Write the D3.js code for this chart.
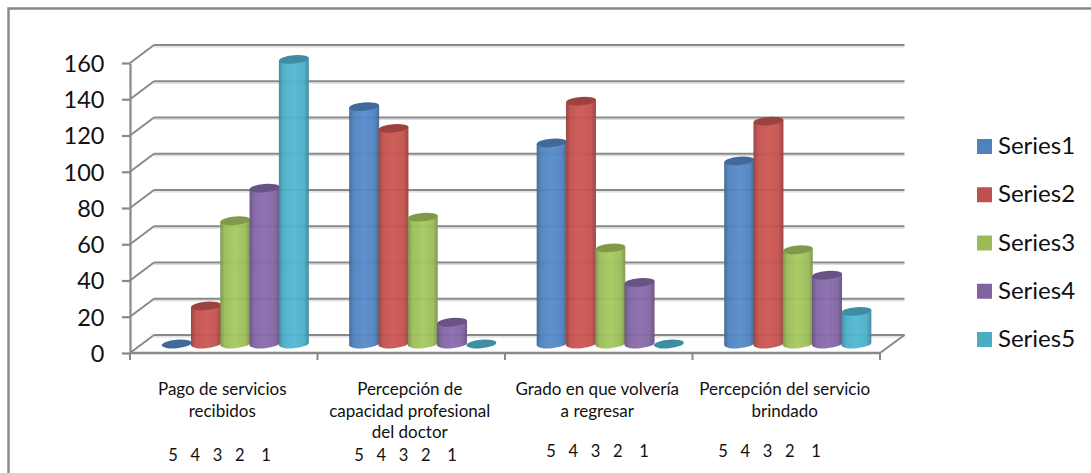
<!DOCTYPE html>
<html>
<head>
<meta charset="utf-8">
<script src="https://cdn.jsdelivr.net/npm/d3@7"></script>
<style>
  html, body { margin: 0; padding: 0; background: #fff; }
  svg { display: block; }
  text { font-family: Lato, "Open Sans", sans-serif; fill: #111; }
</style>
</head>
<body>
<svg id="chart" width="1091" height="473"></svg>
<script>
// Survey answers per question, one array per series
const categories = [
  ["Pago de servicios", "recibidos"],
  ["Percepción de", "capacidad profesional", "del doctor"],
  ["Grado en que volvería", "a regresar"],
  ["Percepción del servicio", "brindado"]
];
const seriesNames = ["Series1", "Series2", "Series3", "Series4", "Series5"];
const series1 = [0, 131, 111, 101];
const series2 = [21, 119, 134, 123];
const series3 = [68, 70, 53, 52];
const series4 = [86, 12, 34, 38];
const series5 = [157, 0, 0, 18];
const allSeries = [series1, series2, series3, series4, series5];
const seriesColors = ["#4F81BD", "#C0504D", "#9BBB59", "#8064A2", "#4BACC6"];
const yTicks = [0, 20, 40, 60, 80, 100, 120, 140, 160];
const rankLabels = ["5", "4", "3", "2", "1"];

const svg = d3.select("#chart");
const gridColor = "#898989";

// Plot frame and oblique projection of the 3D box
const plot = { left: 130, right: 880, top: 63, bottom: 353, depthX: 24, depthY: -18 };
const y = d3.scaleLinear().domain([0, 160]).range([plot.bottom, plot.top]);
const x0 = d3.scaleBand().domain(d3.range(categories.length)).range([plot.left, plot.right]);
const x1 = d3.scaleBand().domain(d3.range(seriesNames.length)).range([0, 146.5]);

// Outer chart border: top and left edges only
svg.append("path")
  .attr("d", "M1091,8.5H8.5V473")
  .attr("fill", "none").attr("stroke", gridColor).attr("stroke-width", 2.4);

// Gradients that give the cylinders their round shading
const defs = svg.append("defs");
seriesColors.forEach((c, i) => {
  const base = d3.color(c);
  const g = defs.append("linearGradient").attr("id", "cyl" + i)
    .attr("x1", 0).attr("x2", 1).attr("y1", 0).attr("y2", 0);
  [[0, base.darker(0.65)], [0.16, base.brighter(0.02)], [0.5, base.brighter(0.2)],
   [0.84, base.brighter(0.02)], [1, base.darker(0.65)]].forEach(([o, col]) =>
    g.append("stop").attr("offset", o).attr("stop-color", col));
});

// Back wall gridlines and their diagonals on the side wall
const grid = svg.append("g").attr("fill", "none");
yTicks.forEach(t => {
  const yy = y(t) + plot.depthY;
  grid.append("line")
    .attr("x1", plot.left + plot.depthX).attr("x2", plot.right + plot.depthX + 0.5)
    .attr("y1", yy + 1.8).attr("y2", yy + 1.8)
    .attr("stroke", "#dcdcdc").attr("stroke-width", 1.2);
  grid.append("line")
    .attr("x1", plot.left + plot.depthX).attr("x2", plot.right + plot.depthX + 0.5)
    .attr("y1", yy).attr("y2", yy)
    .attr("stroke", gridColor).attr("stroke-width", 2.2);
  grid.append("line")
    .attr("x1", plot.left).attr("x2", plot.left + plot.depthX)
    .attr("y1", y(t)).attr("y2", yy)
    .attr("stroke", gridColor).attr("stroke-width", 2);
});
// Floor edge on the right side
grid.append("line")
  .attr("x1", plot.right).attr("x2", plot.right + plot.depthX + 0.5)
  .attr("y1", plot.bottom).attr("y2", plot.bottom + plot.depthY)
  .attr("stroke", gridColor).attr("stroke-width", 2);

// Value axis
const yAxis = svg.append("g").attr("transform", `translate(${plot.left},0)`)
  .call(d3.axisLeft(y).tickValues(yTicks).tickSize(8).tickPadding(17.5).tickSizeOuter(0));
yAxis.selectAll("path, line").attr("stroke", gridColor).attr("stroke-width", 2.2);
yAxis.selectAll("text").style("font-size", "23.5px").attr("fill", "#111").attr("dy", "0.36em");

// Category axis with ticks on the group boundaries
const xAxisLine = svg.append("g");
xAxisLine.append("line")
  .attr("x1", plot.left).attr("x2", plot.right)
  .attr("y1", plot.bottom).attr("y2", plot.bottom)
  .attr("stroke", gridColor).attr("stroke-width", 2.4);
d3.range(categories.length + 1).forEach(i => {
  const xx = plot.left + i * x0.bandwidth();
  xAxisLine.append("line").attr("x1", xx).attr("x2", xx)
    .attr("y1", plot.bottom).attr("y2", plot.bottom + 7)
    .attr("stroke", gridColor).attr("stroke-width", 2);
});

// Cylinders, standing in the middle of the box depth
const barDX = 11.5, barDY = -9, rx = 15, ry = 4.2, tilt = -5;
const lean = rx * Math.sin(tilt * Math.PI / 180);
const bars = svg.append("g");
categories.forEach((_, c) => {
  allSeries.forEach((vals, s) => {
    const v = vals[c];
    const cx = x0(c) + (x0.bandwidth() - x1.range()[1]) / 2 + x1(s) + x1.bandwidth() / 2 + barDX;
    const yBase = y(0) + barDY;
    const yTop = y(v) + barDY;
    const topColor = d3.color(seriesColors[s]).darker(0.55);
    if (v > 0) {
      bars.append("path")
        .attr("d", `M${cx - rx},${yTop - lean} L${cx - rx},${yBase - lean}
                    A${rx},${ry} ${tilt} 0 0 ${cx + rx},${yBase + lean}
                    L${cx + rx},${yTop + lean} Z`)
        .attr("fill", `url(#cyl${s})`).attr("fill-opacity", 0.95);
    }
    bars.append("ellipse")
      .attr("rx", rx).attr("ry", ry)
      .attr("transform", `translate(${cx},${yTop}) rotate(${tilt})`)
      .attr("fill", topColor);
  });
});

// Category labels, wrapped by hand as in the source sheet
const labelFirstBaseline = 395, labelLeading = 21.7;
categories.forEach((lines, c) => {
  const cx = x0(c) + x0.bandwidth() / 2 - 1.5;
  lines.forEach((line, i) => {
    svg.append("text")
      .attr("x", cx).attr("y", labelFirstBaseline + i * labelLeading)
      .attr("text-anchor", "middle").style("font-size", "17px").text(line);
  });
});

// Rank digits under each category
const rankRow = d3.scaleOrdinal().domain(rankLabels).range([0, 22.3, 44.6, 66.9, 93]);
const rankStart = [173, 359, 551, 723];
const rankBaseline = [461, 461, 457, 457];
rankStart.forEach((start, c) => {
  rankLabels.forEach(r => {
    svg.append("text")
      .attr("x", start + rankRow(r)).attr("y", rankBaseline[c])
      .attr("text-anchor", "middle").style("font-size", "16.5px").text(r);
  });
});

// Legend
const legend = d3.scaleLinear().domain([0, 4]).range([146.5, 339.5]);
seriesNames.forEach((name, i) => {
  svg.append("rect")
    .attr("x", 977).attr("y", legend(i) - 7.5).attr("width", 15).attr("height", 15)
    .attr("fill", seriesColors[i]);
  svg.append("text")
    .attr("x", 998).attr("y", legend(i) + 7.5)
    .style("font-size", "24px").text(name);
});
</script>
</body>
</html>
